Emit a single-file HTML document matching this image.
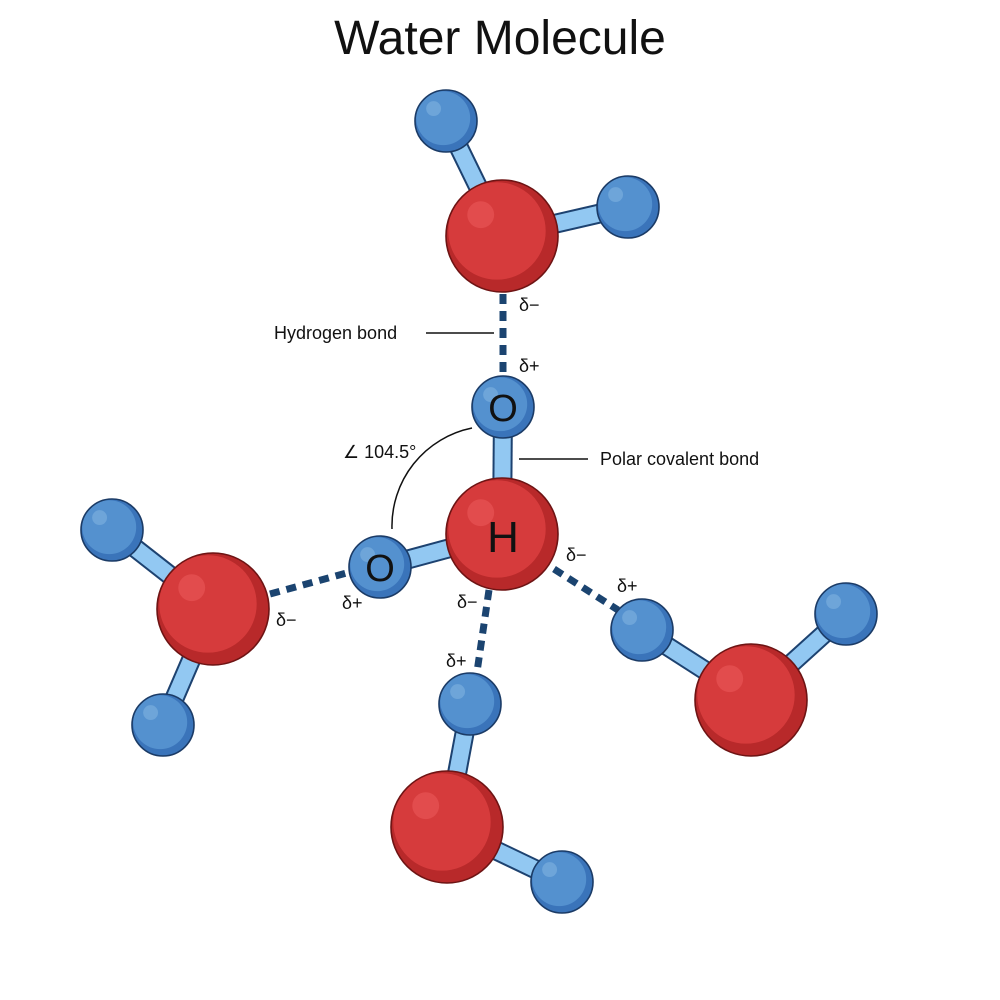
<!DOCTYPE html>
<html><head><meta charset="utf-8"><style>
html,body{margin:0;padding:0;background:#fff;}
svg{display:block;}
text{font-family:"Liberation Sans",sans-serif;fill:#111;}
</style></head><body>
<svg width="1000" height="1000" viewBox="0 0 1000 1000" xmlns="http://www.w3.org/2000/svg">
<defs>
<g id="red">
  <circle r="1" fill="#b8292a"/>
  <circle cx="-0.09" cy="-0.09" r="0.87" fill="#d63b3c"/>
  <circle cx="-0.38" cy="-0.38" r="0.24" fill="#e24c4d"/>
  <circle r="1" fill="none" stroke="#6e1414" stroke-width="1.6" vector-effect="non-scaling-stroke"/>
</g>
<g id="blue">
  <circle r="1" fill="#3a74ba"/>
  <circle cx="-0.09" cy="-0.09" r="0.87" fill="#5491cf"/>
  <circle cx="-0.4" cy="-0.4" r="0.24" fill="#6ea5d9"/>
  <circle r="1" fill="none" stroke="#1b3b66" stroke-width="1.6" vector-effect="non-scaling-stroke"/>
</g>
</defs>

<text x="500" y="54" font-size="48" text-anchor="middle">Water Molecule</text>

<g stroke-linecap="butt">
<g stroke="#1d4270" stroke-width="20">
<line x1="446" y1="121" x2="502" y2="236"/><line x1="628" y1="207" x2="502" y2="236"/>
<line x1="503" y1="407" x2="502" y2="534"/><line x1="380" y1="567" x2="502" y2="534"/>
<line x1="112" y1="530" x2="213" y2="609"/><line x1="163" y1="725" x2="213" y2="609"/>
<line x1="470" y1="704" x2="447" y2="827"/><line x1="562" y1="882" x2="447" y2="827"/>
<line x1="642" y1="630" x2="751" y2="700"/><line x1="846" y1="614" x2="751" y2="700"/>
</g>
<g stroke="#92c8f2" stroke-width="16">
<line x1="446" y1="121" x2="502" y2="236"/><line x1="628" y1="207" x2="502" y2="236"/>
<line x1="503" y1="407" x2="502" y2="534"/><line x1="380" y1="567" x2="502" y2="534"/>
<line x1="112" y1="530" x2="213" y2="609"/><line x1="163" y1="725" x2="213" y2="609"/>
<line x1="470" y1="704" x2="447" y2="827"/><line x1="562" y1="882" x2="447" y2="827"/>
<line x1="642" y1="630" x2="751" y2="700"/><line x1="846" y1="614" x2="751" y2="700"/>
</g>
</g>

<g stroke="#1b4470" stroke-width="7" stroke-dasharray="10,7">
<line x1="503" y1="294" x2="503" y2="376"/>
<line x1="270" y1="594" x2="350" y2="572"/>
<line x1="489" y1="590" x2="477" y2="672"/>
<line x1="554" y1="569" x2="618" y2="610"/>
</g>

<use href="#blue" transform="translate(446,121) scale(31)"/>
<use href="#blue" transform="translate(628,207) scale(31)"/>
<use href="#red" transform="translate(502,236) scale(56)"/>
<use href="#blue" transform="translate(503,407) scale(31)"/>
<use href="#red" transform="translate(502,534) scale(56)"/>
<use href="#blue" transform="translate(380,567) scale(31)"/>
<use href="#blue" transform="translate(112,530) scale(31)"/>
<use href="#blue" transform="translate(163,725) scale(31)"/>
<use href="#red" transform="translate(213,609) scale(56)"/>
<use href="#blue" transform="translate(470,704) scale(31)"/>
<use href="#red" transform="translate(447,827) scale(56)"/>
<use href="#blue" transform="translate(562,882) scale(31)"/>
<use href="#blue" transform="translate(642,630) scale(31)"/>
<use href="#red" transform="translate(751,700) scale(56)"/>
<use href="#blue" transform="translate(846,614) scale(31)"/>

<text x="503" y="421" font-size="38" text-anchor="middle">O</text>
<text x="503" y="552" font-size="44" text-anchor="middle">H</text>
<text x="380" y="581" font-size="38" text-anchor="middle">O</text>

<g stroke="#111" stroke-width="1.5" fill="none">
<line x1="426" y1="333" x2="494" y2="333"/>
<line x1="519" y1="459" x2="588" y2="459"/>
<path d="M472,428 A100,100 0 0 0 392,529"/>
</g>
<g font-size="18">
<text x="274" y="339">Hydrogen bond</text>
<text x="600" y="465">Polar covalent bond</text>
<text x="343" y="458">∠ 104.5°</text>
<text x="519" y="311">δ−</text>
<text x="519" y="372">δ+</text>
<text x="566" y="561">δ−</text>
<text x="617" y="592">δ+</text>
<text x="457" y="608">δ−</text>
<text x="446" y="667">δ+</text>
<text x="342" y="609">δ+</text>
<text x="276" y="626">δ−</text>
</g>
</svg>
</body></html>
